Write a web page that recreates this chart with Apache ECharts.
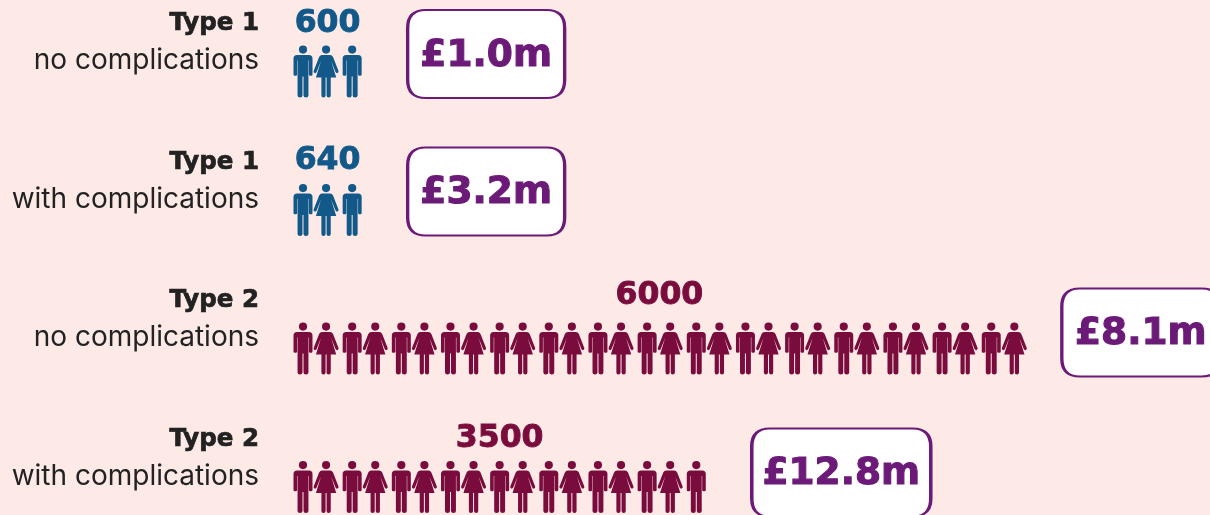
<!DOCTYPE html>
<html><head><meta charset="utf-8">
<style>html,body{margin:0;padding:0;background:#fdeae6}#c{width:1210px;height:515px}</style>
<script src="https://cdn.jsdelivr.net/npm/echarts@6/dist/echarts.min.js"></script>
</head><body><div id="c"></div>
<script>
const typeLabels = ['Type 1','Type 1','Type 2','Type 2'];
const subLabels = ['no complications','with complications','no complications','with complications'];
const people = [600,640,6000,3500];
const peopleLabels = ['600','640','6000','3500'];
const iconCounts = [3,3,30,17];
const costs = ['£1.0m','£3.2m','£8.1m','£12.8m'];

const BLUE='#12598a', MAROON='#7a0c3d', PURPLE='#6b1a78', INK='#222222';
const HEAVY='"DejaVu Sans", sans-serif', FONT='Inter, "Open Sans", sans-serif';
const rowColor = [BLUE,BLUE,MAROON,MAROON];
const countDy = [-47.5,-49,-53,-48];
const boxDx = [134,134,125,145];
const boxDy = [-17.5,-18.5,-16,-14.5];
const boxW = [157,157,158,179];
const UNIT = 24.58, X0 = 303, W = 907, BOX_H = 88, BOX_R = 18;

const MAN='path://M5.4 4.1a4.1 4.1 0 1 1 8.2 0a4.1 4.1 0 1 1 -8.2 0zM3.5 9.4H15.5Q19 9.4 19 12.9V29Q19 30.2 17.6 30.2H16.8Q15.4 30.2 15.4 29V15H14.95V50Q14.95 52 12.5 52Q10 52 10 50V31H9V50Q9 52 6.5 52Q4.05 52 4.05 50V15H3.6V29Q3.6 30.2 2.2 30.2H1.4Q0 30.2 0 29V12.9Q0 9.4 3.5 9.4Z';
const WOMAN='path://M8.4 4.1a4.1 4.1 0 1 1 8.2 0a4.1 4.1 0 1 1 -8.2 0zM8.5 9.4H16.5Q18.5 9.4 19.5 11.4L25 25.5Q25.3 27 24 27.5Q22.8 28 22 26.5L17.6 15.5L22.7 32H17.2V50Q17.2 52 15.2 52Q13 52 13 50V32H12V50Q12 52 9.8 52Q7.8 52 7.8 50V32H2.3L7.4 15.5L3 26.5Q2.2 28 1 27.5Q-.3 27 0 25.5L5.5 11.4Q6.5 9.4 8.5 9.4Z';
const boxPath=(w,h,r)=>`path://M${r} 0H${w-r}Q${w} 0 ${w} ${r}V${h-r}Q${w} ${h} ${w-r} ${h}H${r}Q0 ${h} 0 ${h-r}V${r}Q0 0 ${r} 0Z`;

const men=[], women=[];
iconCounts.forEach((n,r)=>{
  for(let i=0;i<n;i++){
    const d={value:[i,r],itemStyle:{color:rowColor[r],opacity:1}};
    (i%2===0?men:women).push(d);
  }
});
const countData = people.map((p,r)=>({
  value:[(iconCounts[r]-1)/2,r],
  label:{show:true,formatter:peopleLabels[r],color:rowColor[r],offset:[0,countDy[r]],
         textBorderColor:rowColor[r],textBorderWidth:0.9,
         position:'inside',fontFamily:HEAVY,fontWeight:'bold',fontSize:31.5}
}));
const boxData = costs.map((c,r)=>({
  value:[iconCounts[r]-1+boxDx[r]/UNIT,r],
  symbol:boxPath(boxW[r],BOX_H,BOX_R),
  symbolSize:[boxW[r],BOX_H],
  symbolOffset:[0,boxDy[r]],
  label:{show:true,formatter:c}
}));

const chart=echarts.init(document.getElementById('c'),null,{renderer:'canvas'});
chart.setOption({
  animation:false,
  backgroundColor:'#fdeae6',
  grid:{left:X0,top:2.25,width:W,height:554,containLabel:false,outerBoundsMode:'none'},
  xAxis:{type:'value',min:0,max:W/UNIT,show:false,splitLine:{show:false}},
  yAxis:{type:'category',inverse:true,data:typeLabels.map((t,i)=>t+'|'+subLabels[i]),
    axisLine:{show:false},axisTick:{show:false},splitLine:{show:false},
    axisLabel:{margin:44,align:'right',padding:[0,0,58,0],hideOverlap:false,
      formatter:v=>{const p=v.split('|');return '{a|'+p[0]+'}\n{b|'+p[1]+'}';},
      rich:{
        a:{fontFamily:HEAVY,fontWeight:'bold',fontSize:24.5,color:INK,lineHeight:37,align:'right',textBorderColor:INK,textBorderWidth:0.7},
        b:{fontFamily:FONT,fontWeight:400,fontSize:28,color:INK,lineHeight:37,align:'right'}
      }}},
  series:[
    {name:'men',type:'scatter',symbol:MAN,symbolSize:[19,52],data:men,silent:true},
    {name:'women',type:'scatter',symbol:WOMAN,symbolSize:[25,52],symbolOffset:[-1.5,0],data:women,silent:true},
    {name:'counts',type:'scatter',symbol:'circle',symbolSize:1,itemStyle:{color:'rgba(0,0,0,0)',opacity:1},data:countData,silent:true},
    {name:'costs',type:'scatter',data:boxData,silent:true,z:3,
      itemStyle:{color:'#ffffff',borderColor:PURPLE,borderWidth:2.5,opacity:1},
      label:{show:true,position:'inside',color:PURPLE,offset:[0,2],fontFamily:HEAVY,fontWeight:'bold',fontSize:37.5,textBorderColor:PURPLE,textBorderWidth:1.1}}
  ]
});
</script></body></html>
